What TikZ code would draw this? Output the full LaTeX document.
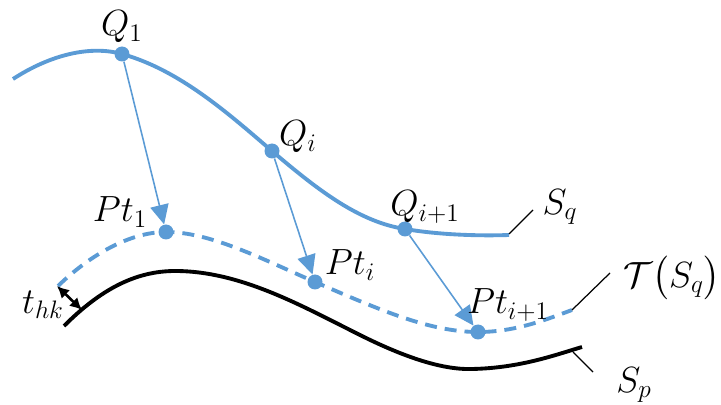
\documentclass[tikz,border=0pt]{standalone}
\usepackage{amsmath}
\usepackage{tikz}
\usetikzlibrary{arrows.meta}
\usepackage{xcolor}
\definecolor{curveblue}{RGB}{91,155,213}

\begin{document}
\begin{tikzpicture}[
      x=0.02cm, y=-0.02cm,
      pt/.style={circle, fill=curveblue, inner sep=0pt, minimum size=3mm},
      lbl/.style={font=\fontsize{21}{24}\selectfont, inner sep=1pt},
      proj/.style={curveblue, line width=0.9pt,
          -{Triangle[length=3.9mm, width=3.7mm]}},
      lead/.style={black, line width=0.7pt},
      crv/.style={line width=2.2pt},
    ]
    \useasboundingbox (0,0) rectangle (721,405);

    % ---- Points on the curves ----
    \node[pt] (Q1)  at (122,54)  {};
    \node[pt] (Qi)  at (272,151) {};
    \node[pt] (Qi1) at (405,229) {};
    \node[pt] (P1)  at (166,232) {};
    \node[pt] (Pi)  at (315,282) {};
    \node[pt] (Pi1) at (478,332) {};

    % ---- Curves ----
    % S_q (solid blue)
    \draw[crv, curveblue] (13,79) .. controls (50,55) and (90,45) .. (122,54)
    .. controls (180,70) and (230,115) .. (272,151)
    .. controls (320,192) and (360,222) .. (405,229)
    .. controls (440,235) and (480,236) .. (509,235);
    % T(S_q) (dashed blue)
    \draw[crv, curveblue, dash pattern=on 2.4mm off 1.6mm]
    (58,286) .. controls (90,255) and (130,232) .. (166,232)
    .. controls (210,232) and (260,258) .. (315,282)
    .. controls (380,310) and (430,332) .. (478,332)
    .. controls (515,332) and (545,320) .. (572,310);
    % S_p (black)
    \draw[crv, black] (64,326) .. controls (100,290) and (135,271) .. (175,271)
    .. controls (240,271) and (300,305) .. (360,335)
    .. controls (400,355) and (440,370) .. (472,369)
    .. controls (520,368) and (555,355) .. (582,347);

    % ---- Projections Q -> Pt ----
    \draw[proj] (Q1)  -- (P1);
    \draw[proj] (Qi)  -- (Pi);
    \draw[proj] (Qi1) -- (Pi1);

    % ---- Point labels ----
    \node[lbl] (lQ1)  at (122,27)  {$Q_1$};
    \node[lbl] (lQi)  at (298,137) {$Q_i$};
    \node[lbl] (lQi1) at (425,207) {$Q_{i+1}$};
    \node[lbl] (lP1)  at (120,212) {$Pt_1$};
    \node[lbl] (lPi)  at (350,265) {$Pt_i$};
    \node[lbl] (lPi1) at (508,305) {$Pt_{i+1}$};

    % ---- Curve labels with leaders ----
    \coordinate (SqEnd) at (509,234);
    \coordinate (TEnd)  at (572,310);
    \coordinate (SpEnd) at (573,352);
    \node[lbl] (lSq) at (560,207) {$S_q$};
    \node[lbl] (lT)  at (672,278) {$\mathcal{T}\big(S_q\big)$};
    \node[lbl] (lSp) at (634,385) {$S_p$};
    \draw[lead] (SqEnd) -- (533,210);
    \draw[lead] (TEnd)  -- (610,273);
    \draw[lead] (SpEnd) -- (593,372);

    % ---- Offset thickness ----
    \coordinate (tTop) at (57,286);
    \coordinate (tBot) at (82,310);
    \draw[black, line width=1.5pt,
        {Latex[length=2.4mm, width=2.4mm]}-{Latex[length=2.4mm, width=2.4mm]}]
    (tTop) -- (tBot);
    \node[lbl] (lt) at (43,305) {$t_{hk}$};

  \end{tikzpicture}
\end{document}
